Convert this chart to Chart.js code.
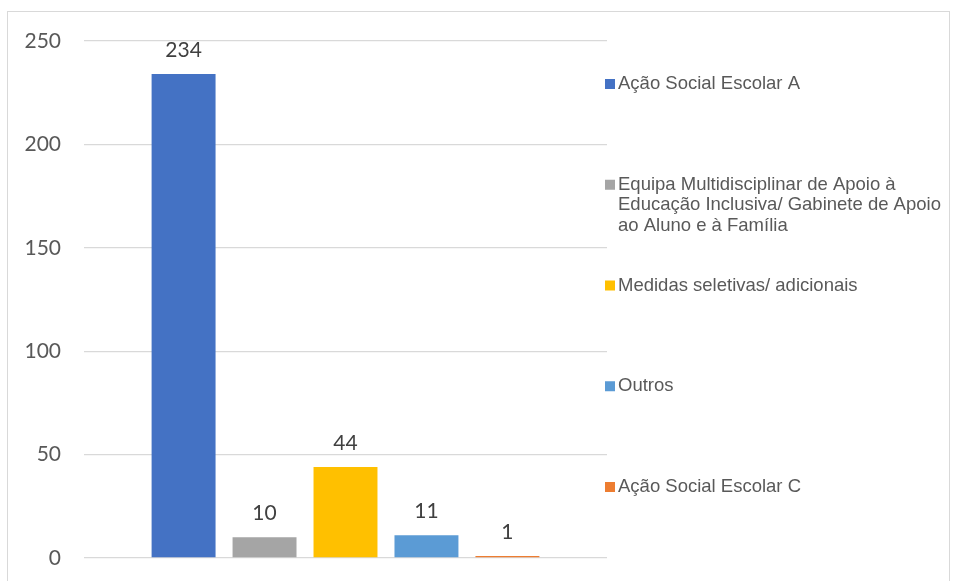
<!DOCTYPE html>
<html>
<head>
<meta charset="utf-8">
<script src="https://cdn.jsdelivr.net/npm/chart.js@4.4.0/dist/chart.umd.min.js"></script>
<style>
    body { margin: 0; background: #fff; }
    #wrap { position: relative; width: 956px; height: 581px; overflow: hidden; }
    #frame { position: absolute; left: 7px; top: 11px; width: 941px; height: 600px; border: 1px solid #d9d9d9; }
    canvas { position: absolute; left: 0; top: 0; }
</style>
</head>
<body>
<div id="wrap">
    <div id="frame"></div>
    <canvas id="chart" width="956" height="581"></canvas>
</div>
<script>
const seriesNames = [
    'Ação Social Escolar A',
    'Equipa Multidisciplinar de Apoio à Educação Inclusiva/ Gabinete de Apoio ao Aluno e à Família',
    'Medidas seletivas/ adicionais',
    'Outros',
    'Ação Social Escolar C'
];
const seriesValues = [234, 10, 44, 11, 1];
const seriesColors = ['#4472C4', '#A5A5A5', '#FFC000', '#5B9BD5', '#ED7D31'];
const yTicks = [0, 50, 100, 150, 200, 250];

// valores por cima das barras
const valueLabels = {
    id: 'valueLabels',
    afterDatasetsDraw(chart) {
        const ctx = chart.ctx;
        ctx.save();
        ctx.font = '21px Lato';
        ctx.fillStyle = '#404040';
        ctx.textAlign = 'center';
        ctx.textBaseline = 'middle';
        chart.data.datasets.forEach((ds, i) => {
            const bar = chart.getDatasetMeta(i).data[0];
            ctx.fillText(String(ds.data[0]), bar.x, bar.y - 24);
        });
        ctx.restore();
    }
};

// legenda à direita, itens espalhados na vertical como no Excel
const sideLegend = {
    id: 'sideLegend',
    afterDraw(chart) {
        const ctx = chart.ctx;
        const area = chart.chartArea;
        const boxX = area.right - 2;
        const textX = boxX + 13;
        const maxW = 335;
        const lineH = 20.5;
        ctx.save();
        ctx.font = '18.5px "Liberation Sans", Arial, sans-serif';
        ctx.textBaseline = 'middle';
        chart.data.datasets.forEach((ds, i) => {
            const y = 84 + i * 100.75;
            ctx.fillStyle = ds.backgroundColor;
            ctx.fillRect(boxX, y - 5, 10, 10);
            ctx.fillStyle = '#595959';
            const words = ds.label.split(' ');
            let line = '';
            let ly = y;
            words.forEach(w => {
                const test = line ? line + ' ' + w : w;
                if (ctx.measureText(test).width > maxW && line) {
                    ctx.fillText(line, textX, ly);
                    line = w;
                    ly += lineH;
                } else {
                    line = test;
                }
            });
            ctx.fillText(line, textX, ly);
        });
        ctx.restore();
    }
};

new Chart(document.getElementById('chart'), {
    type: 'bar',
    data: {
        labels: [''],
        datasets: seriesNames.map((name, i) => ({
            label: name,
            data: [seriesValues[i]],
            backgroundColor: seriesColors[i],
            borderWidth: 0,
            categoryPercentage: 0.774,
            barPercentage: 0.79
        }))
    },
    options: {
        responsive: false,
        animation: false,
        layout: {
            padding: {left: 0, right: 349, top: 41, bottom: 23}
        },
        plugins: {
            legend: {display: false},
            tooltip: {enabled: false}
        },
        scales: {
            x: {display: false},
            y: {
                min: 0,
                max: 250,
                afterFit(scale) {
                    scale.width = 84;
                    scale.paddingTop = 0;
                    scale.paddingBottom = 0;
                },
                afterBuildTicks(scale) { scale.ticks = yTicks.map(v => ({value: v})); },
                border: {display: false},
                grid: {color: '#d9d9d9', lineWidth: 1.3, drawTicks: false},
                ticks: {
                    padding: 23,
                    color: '#595959',
                    font: {family: 'Lato', size: 21}
                }
            }
        }
    },
    plugins: [valueLabels, sideLegend]
});
</script>
</body>
</html>
